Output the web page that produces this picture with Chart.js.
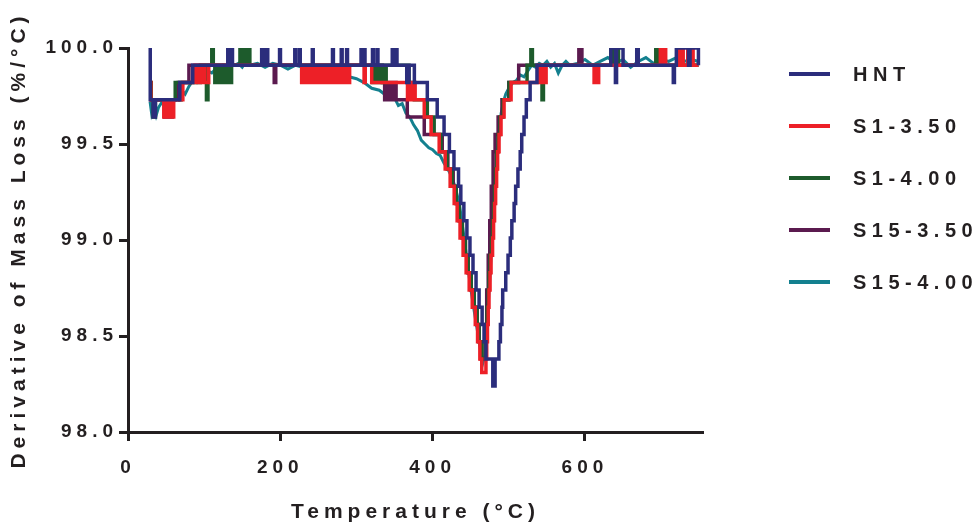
<!DOCTYPE html>
<html>
<head>
<meta charset="utf-8">
<script src="https://cdn.jsdelivr.net/npm/chart.js@4.4.1/dist/chart.umd.min.js"></script>
<style>
  html, body { margin: 0; padding: 0; background: #fff; }
  #wrap { width: 980px; height: 527px; }
</style>
</head>
<body>
<div id="wrap"><canvas id="dtgChart" width="980" height="527"></canvas></div>
<script>
// series names
const seriesNames = ['HNT', 'S1-3.50', 'S1-4.00', 'S15-3.50', 'S15-4.00'];
const seriesColors = ['#2b2d7c', '#ed2027', '#1d5b2c', '#5b1a4f', '#13808f'];

// x axis tick labels
const xTicks = [0, 200, 400, 600];
// y axis tick labels
const yTicks = [98.0, 98.5, 99.0, 99.5, 100.0];

// HNT (step data: temperature, value)
const hntTemp = [28.8, 29.2, 33, 36, 68, 85,
  131, 132.2, 136, 137.2, 175.5, 177, 179, 180.5, 182, 183.5, 199, 200.2, 219, 220.2, 225, 226.2,
  242, 243.2, 268.5, 269.7, 280, 281.2, 287, 288.2, 306, 307.2, 310, 311.2, 321, 322.2, 327, 328.2,
  347, 348.2, 352, 353.2,
  366, 369, 376, 393, 406, 415, 422, 428, 434, 437, 441, 445, 449, 453, 457, 461, 465, 467.5, 470, 479, 482, 487,
  489, 491, 492, 496, 499, 502, 504, 507, 509, 512, 515, 517, 520, 523, 528, 537,
  634, 640, 641.5, 650, 668, 670, 716, 717.5, 720, 736, 738, 749];
const hntVal = [100, 99.73, 99.64, 99.73, 99.82, 99.91,
  100, 99.91, 100, 99.91, 100, 99.91, 100, 99.91, 100, 99.91, 100, 99.91, 100, 99.91, 100, 99.91,
  100, 99.91, 100, 99.91, 100, 99.91, 100, 99.91, 100, 99.91, 100, 99.91, 100, 99.91, 100, 99.91,
  100, 99.91, 100, 99.91,
  99.82, 99.91, 99.82, 99.73, 99.64, 99.55, 99.46, 99.37, 99.28, 99.19, 99.10, 99.01, 98.92, 98.83, 98.74, 98.65, 98.56, 98.47, 98.38, 98.24, 98.38, 98.47,
  98.56, 98.65, 98.74, 98.83, 98.92, 99.01, 99.10, 99.19, 99.28, 99.37, 99.46, 99.55, 99.64, 99.73, 99.82, 99.91,
  100, 99.82, 100, 99.91, 100, 99.91, 99.82, 99.91, 100, 99.91, 100, 99.91];

// S1-3.50
const s1aTemp = [28.8, 30, 47, 50, 52, 55, 57, 60, 72, 88, 90, 93, 95, 99, 101, 106,
  228, 230, 232, 235, 238, 240, 243, 246, 249, 251, 255, 258, 261, 264, 268, 271, 274, 277, 281, 284, 288, 291,
  310, 311.5, 320,
  367, 370, 372, 374, 377, 389, 398, 408.6, 416.5, 423, 428.3, 432.2, 436, 440, 444, 448, 452, 456, 459, 462, 464.5,
  470, 471, 472, 473, 474, 475.4, 476.7, 478.7, 480, 481.3, 482.7, 484, 485.3, 487.2, 489.8, 493.8, 503, 539.6,
  543.6, 545, 547, 549, 612, 614, 616, 618, 699, 701, 704, 706, 723, 725, 727, 729, 735, 737, 740, 742, 749];
const s1aVal = [99.82, 99.73, 99.64, 99.73, 99.64, 99.73, 99.64, 99.73, 99.82, 99.91, 99.82, 99.91, 99.82, 99.91, 99.82, 99.91,
  99.82, 99.91, 99.82, 99.91, 99.82, 99.91, 99.82, 99.91, 99.82, 99.91, 99.82, 99.91, 99.82, 99.91, 99.82, 99.91, 99.82, 99.91, 99.82, 99.91, 99.82, 99.91,
  99.82, 99.91, 99.82,
  99.73, 99.82, 99.73, 99.82, 99.73, 99.64, 99.55, 99.46, 99.37, 99.28, 99.19, 99.10, 99.01, 98.92, 98.83, 98.74, 98.65, 98.56, 98.47, 98.38, 98.31,
  98.38, 98.47, 98.56, 98.65, 98.74, 98.83, 98.92, 99.01, 99.10, 99.19, 99.28, 99.37, 99.46, 99.55, 99.64, 99.73, 99.82, 99.91,
  99.82, 99.91, 99.82, 99.91, 99.82, 99.91, 99.82, 99.91, 100, 99.91, 100, 99.91, 100, 99.91, 100, 99.91, 100, 99.91, 100, 99.91, 99.91];

// S1-4.00
const s1bTemp = [28.8, 30.5, 33, 36, 62, 68, 70, 95, 103, 105, 110, 112, 114, 117, 120, 124, 127, 131, 134, 136,
  147, 149, 151, 153, 157, 160,
  321, 324, 327, 331, 335, 339,
  369, 376, 393, 402, 411, 419, 425.7, 431, 435, 439, 443, 446.6, 450.6, 454.5, 458.4, 461, 464,
  469, 470.5, 471.5, 473, 474, 475.4, 477.3, 478.7, 480, 481.3, 482.7, 484, 486, 488.5, 492.5, 500.3, 524,
  529, 531, 543.6, 545.5, 634, 636, 638, 640, 642, 644, 693, 695, 697, 699, 749];
const s1bVal = [99.82, 99.73, 99.64, 99.73, 99.82, 99.73, 99.82, 99.91, 99.73, 99.91, 100, 99.91, 99.82, 99.91, 99.82, 99.91, 99.82, 99.91, 99.82, 99.91,
  100, 99.91, 100, 99.91, 100, 99.91,
  99.82, 99.91, 99.82, 99.91, 99.82, 99.91,
  99.82, 99.73, 99.64, 99.55, 99.46, 99.37, 99.28, 99.19, 99.10, 99.01, 98.92, 98.83, 98.74, 98.65, 98.56, 98.47, 98.38,
  98.47, 98.56, 98.65, 98.74, 98.83, 98.92, 99.01, 99.10, 99.19, 99.28, 99.37, 99.46, 99.55, 99.64, 99.73, 99.82, 99.91,
  100, 99.91, 99.73, 99.91, 100, 99.91, 100, 99.91, 100, 99.91, 100, 99.91, 100, 99.91, 99.91];

// S15-3.50
const s15aTemp = [28.8, 48, 50, 53, 58, 66, 80, 192, 194,
  334, 337, 339, 342, 344, 347, 349, 352, 366.7, 389, 412.6, 420, 427, 431, 435, 439, 443, 446.6, 450.6, 454.5, 458.4, 461, 464,
  469, 470, 471, 473, 475, 477, 479.4, 482, 486, 491, 500, 513, 592, 596, 749];
const s15aVal = [99.73, 99.64, 99.73, 99.64, 99.73, 99.82, 99.91, 99.82, 99.91,
  99.82, 99.73, 99.82, 99.73, 99.82, 99.73, 99.82, 99.73, 99.64, 99.55, 99.46, 99.37, 99.28, 99.19, 99.10, 99.01, 98.92, 98.83, 98.74, 98.65, 98.56, 98.47, 98.38,
  98.47, 98.56, 98.74, 98.92, 99.10, 99.28, 99.46, 99.55, 99.64, 99.73, 99.82, 99.91, 100, 99.91, 99.91];

// S15-4.00 (continuous trace)
const s15bTemp = [29, 31, 34, 37, 40, 45, 50, 55, 60, 65, 70, 75, 80, 85, 90, 95, 100, 105, 110, 115, 120, 125, 130, 135, 140,
  145, 150, 155, 160, 170, 180, 190, 200, 210, 220, 230, 240, 250, 260, 270, 280, 290, 300, 310, 320, 330, 340, 350, 355,
  360, 365, 370, 375, 380, 385, 390, 395, 400, 405, 410, 415, 420, 425, 430, 435, 440, 445, 450, 455, 460, 463, 466, 469,
  472, 475, 478, 481, 484, 487, 490, 493, 496, 500, 505, 510, 515, 520, 525, 530, 535, 540, 545, 550, 555, 560, 565,
  570, 575, 580, 590, 600, 610, 620, 630, 640, 650, 660, 670, 680, 690, 700, 710, 720, 730, 740, 749];
const s15bVal = [99.72, 99.66, 99.70, 99.65, 99.69, 99.72, 99.71, 99.73, 99.72, 99.75, 99.78, 99.76, 99.80, 99.83, 99.82, 99.86, 99.85, 99.88, 99.87, 99.89, 99.88, 99.91, 99.90, 99.92, 99.91,
  99.92, 99.90, 99.93, 99.91, 99.92, 99.90, 99.92, 99.91, 99.89, 99.91, 99.90, 99.88, 99.89, 99.87, 99.88, 99.86, 99.85, 99.84, 99.82, 99.79, 99.78, 99.75, 99.74, 99.70,
  99.71, 99.66, 99.64, 99.60, 99.57, 99.52, 99.50, 99.48, 99.47, 99.45, 99.44, 99.40, 99.37, 99.33, 99.27, 99.19, 99.05, 98.90, 98.75, 98.62, 98.50, 98.42, 98.36, 98.40,
  98.60, 98.80, 99.00, 99.20, 99.38, 99.54, 99.66, 99.72, 99.76, 99.79, 99.82, 99.83, 99.86, 99.85, 99.88, 99.91, 99.90, 99.92, 99.91, 99.93, 99.90, 99.92, 99.87,
  99.91, 99.93, 99.91, 99.92, 99.94, 99.91, 99.93, 99.95, 99.92, 99.94, 99.90, 99.93, 99.95, 99.92, 99.94, 99.93, 99.95, 99.93, 99.94, 99.93];

const toPoints = (temps, vals) => temps.map((t, i) => ({ x: t, y: vals[i] }));

const ink = '#231f20';
const fontFam = '"Liberation Sans", Arial, sans-serif';

// letter spacing for every text on the canvas
const spacingPlugin = {
  id: 'spacing',
  beforeDraw(chart) { chart.ctx.letterSpacing = '5px'; }
};

// legend on the right side
const sideLegend = {
  id: 'sideLegend',
  afterDraw(chart) {
    const ctx = chart.ctx;
    ctx.save();
    ctx.font = 'bold 20px ' + fontFam;
    ctx.letterSpacing = '5.5px';
    ctx.textAlign = 'left';
    ctx.textBaseline = 'middle';
    chart.data.datasets.forEach((ds, i) => {
      const y = 74 + i * 52;
      ctx.strokeStyle = ds.borderColor;
      ctx.lineWidth = 4;
      ctx.beginPath();
      ctx.moveTo(789, y);
      ctx.lineTo(830, y);
      ctx.stroke();
      ctx.fillStyle = ink;
      ctx.fillText(ds.label, 853, y + 1);
    });
    ctx.restore();
  }
};

const ctx = document.getElementById('dtgChart').getContext('2d');
new Chart(ctx, {
  type: 'line',
  data: {
    datasets: [
      { label: seriesNames[0], data: toPoints(hntTemp, hntVal), borderColor: seriesColors[0], stepped: true, borderWidth: 3.5 },
      { label: seriesNames[1], data: toPoints(s1aTemp, s1aVal), borderColor: seriesColors[1], stepped: true, borderWidth: 3.5 },
      { label: seriesNames[2], data: toPoints(s1bTemp, s1bVal), borderColor: seriesColors[2], stepped: true, borderWidth: 3.5 },
      { label: seriesNames[3], data: toPoints(s15aTemp, s15aVal), borderColor: seriesColors[3], stepped: true, borderWidth: 3.5 },
      { label: seriesNames[4], data: toPoints(s15bTemp, s15bVal), borderColor: seriesColors[4], borderWidth: 3 }
    ]
  },
  options: {
    responsive: false,
    animation: false,
    events: [],
    elements: { point: { radius: 0 }, line: { tension: 0, fill: false } },
    layout: { padding: { top: 48, right: 277, left: 0, bottom: 0 } },
    plugins: { legend: { display: false }, tooltip: { enabled: false } },
    scales: {
      x: {
        type: 'linear',
        min: 0,
        max: 755,
        afterFit(s) { s.height = 95; },
        afterBuildTicks(s) { s.ticks = xTicks.map(v => ({ value: v })); },
        ticks: { color: ink, font: { family: fontFam, size: 19, weight: 'bold' }, padding: 15, maxRotation: 0 },
        grid: { drawOnChartArea: false, drawTicks: true, tickLength: 9, tickWidth: 3, tickColor: ink },
        border: { color: ink, width: 3 },
        title: { display: true, text: 'Temperature (°C)', color: ink, font: { family: fontFam, size: 21, weight: 'bold' }, padding: { top: 2, bottom: 2 } }
      },
      y: {
        min: 98,
        max: 100,
        afterFit(s) { s.width = 128; },
        afterBuildTicks(s) { s.ticks = yTicks.map(v => ({ value: v })); },
        ticks: { color: ink, font: { family: fontFam, size: 19, weight: 'bold' }, padding: 1, callback: v => v.toFixed(1) },
        grid: { drawOnChartArea: false, drawTicks: true, tickLength: 9, tickWidth: 3, tickColor: ink },
        border: { color: ink, width: 3 },
        title: { display: true, text: 'Derivative of Mass Loss (%/°C)', color: ink, font: { family: fontFam, size: 21, weight: 'bold' }, padding: { top: 7, bottom: 2 } }
      }
    }
  },
  plugins: [spacingPlugin, sideLegend]
});
</script>
</body>
</html>
